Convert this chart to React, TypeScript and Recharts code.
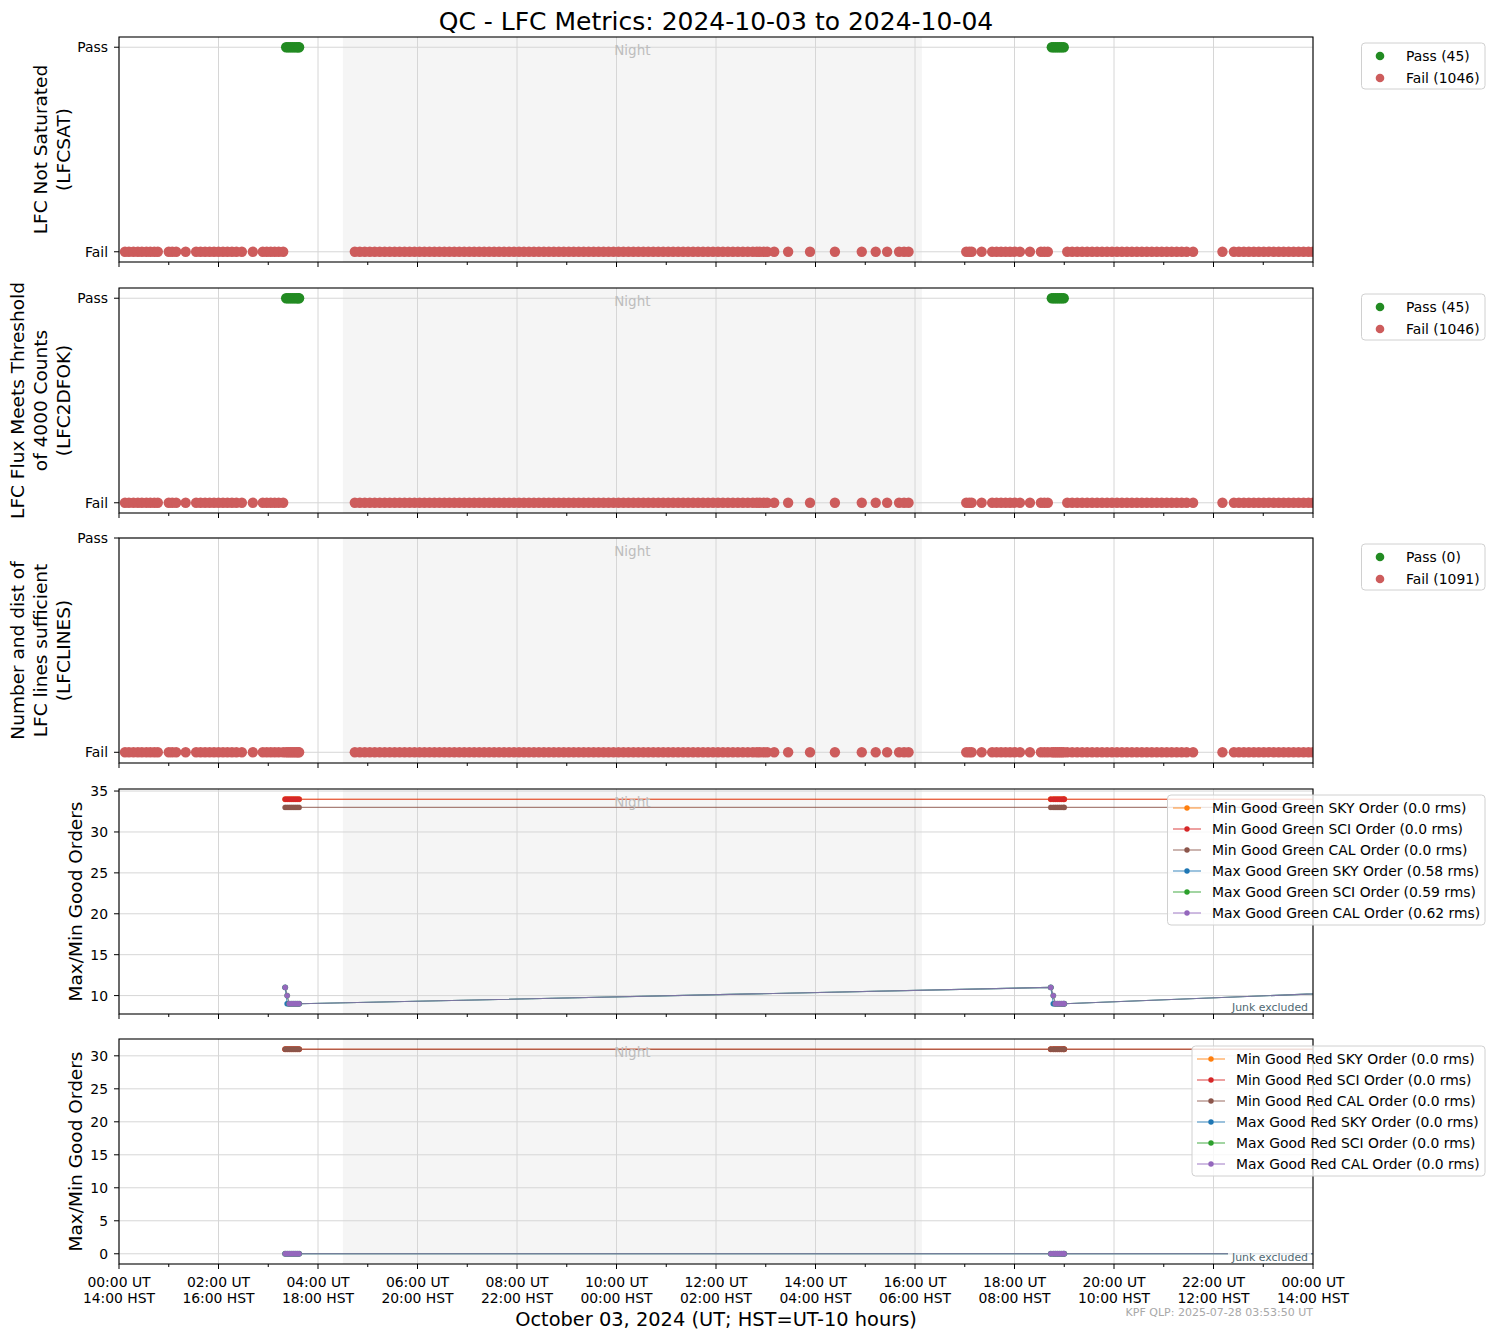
import React from "react";
import { ComposedChart, Line, ReferenceArea, ReferenceLine, Scatter, XAxis, YAxis } from "recharts";

// exposure times (hours UT)
const failTimes = [
  0.12, 0.2, 0.29, 0.38, 0.46, 0.55, 0.63, 0.71, 0.78,
  1.0, 1.07, 1.15, 1.34,
  1.55, 1.64, 1.73, 1.82, 1.91, 2.0, 2.09, 2.18, 2.27, 2.36, 2.47,
  2.69,
  2.89, 2.97, 3.05, 3.13, 3.21, 3.3,
  4.74, 4.84, 4.94, 5.04, 5.14, 5.24, 5.34, 5.44, 5.54, 5.64,
  5.74, 5.84, 5.94, 6.04, 6.14, 6.24, 6.34, 6.44, 6.54, 6.64,
  6.74, 6.84, 6.94, 7.04, 7.14, 7.24, 7.34, 7.44, 7.54, 7.64,
  7.74, 7.84, 7.94, 8.04, 8.14, 8.24, 8.34, 8.44, 8.54, 8.64,
  8.74, 8.84, 8.94, 9.04, 9.14, 9.24, 9.34, 9.44, 9.54, 9.64,
  9.74, 9.84, 9.94, 10.04, 10.14, 10.24, 10.34, 10.44, 10.54, 10.64,
  10.74, 10.84, 10.94, 11.04, 11.14, 11.24, 11.34, 11.44, 11.54, 11.64,
  11.74, 11.84, 11.94, 12.04, 12.14, 12.24, 12.34, 12.44, 12.54, 12.64, 12.74,
  12.82, 12.88, 12.96, 13.03, 13.17,
  13.45, 13.89, 14.39, 14.93, 15.21, 15.44, 15.68, 15.78, 15.87,
  17.03, 17.09, 17.14, 17.34,
  17.55, 17.64, 17.73, 17.82, 17.91, 18.0, 18.11, 18.31,
  18.53, 18.6, 18.67,
  19.06, 19.16, 19.26, 19.36, 19.46, 19.56, 19.66, 19.76, 19.86, 19.96,
  20.06, 20.16, 20.26, 20.36, 20.46, 20.56, 20.66, 20.76, 20.86, 20.96,
  21.06, 21.16, 21.26, 21.36, 21.46, 21.59,
  22.18,
  22.41, 22.51, 22.61, 22.71, 22.81, 22.91, 23.01, 23.11, 23.21, 23.31,
  23.41, 23.51, 23.61, 23.71, 23.81, 23.91, 24.0,
];
const passTimes = [3.36, 3.4, 3.44, 3.48, 3.52, 3.56, 3.6, 3.62, 18.75, 18.79, 18.83, 18.87, 18.91, 18.95, 18.99];

const passCounts = [45, 45, 0];
const failCounts = [1046, 1046, 1091];

// good-order series (LFC frames only), last point falls after midnight
const orderTimes = [3.34, 3.38, 3.42, 3.46, 3.5, 3.54, 3.58, 3.62, 18.73, 18.78, 18.82, 18.86, 18.9, 18.94, 18.98, 19.0, 27.3];
const minSkyGreen = [34, 34, 34, 34, 34, 34, 34, 34, 34, 34, 34, 34, 34, 34, 34, 34, 34];
const minSciGreen = [34, 34, 34, 34, 34, 34, 34, 34, 34, 34, 34, 34, 34, 34, 34, 34, 34];
const minCalGreen = [33, 33, 33, 33, 33, 33, 33, 33, 33, 33, 33, 33, 33, 33, 33, 33, 33];
const maxSkyGreen = [11, 9, 9, 9, 9, 9, 9, 9, 11, 9, 9, 9, 9, 9, 9, 9, 11];
const maxSciGreen = [11, 10, 9, 9, 9, 9, 9, 9, 11, 10, 9, 9, 9, 9, 9, 9, 11];
const maxCalGreen = [11, 10, 9, 9, 9, 9, 9, 9, 11, 10, 9, 9, 9, 9, 9, 9, 11];
const minSkyRed = [31, 31, 31, 31, 31, 31, 31, 31, 31, 31, 31, 31, 31, 31, 31, 31, 31];
const minSciRed = [31, 31, 31, 31, 31, 31, 31, 31, 31, 31, 31, 31, 31, 31, 31, 31, 31];
const minCalRed = [31, 31, 31, 31, 31, 31, 31, 31, 31, 31, 31, 31, 31, 31, 31, 31, 31];
const maxSkyRed = [0, 0, 0, 0, 0, 0, 0, 0, 0, 0, 0, 0, 0, 0, 0, 0, 0];
const maxSciRed = [0, 0, 0, 0, 0, 0, 0, 0, 0, 0, 0, 0, 0, 0, 0, 0, 0];
const maxCalRed = [0, 0, 0, 0, 0, 0, 0, 0, 0, 0, 0, 0, 0, 0, 0, 0, 0];

const greenLabels = [
  "Min Good Green SKY Order (0.0 rms)",
  "Min Good Green SCI Order (0.0 rms)",
  "Min Good Green CAL Order (0.0 rms)",
  "Max Good Green SKY Order (0.58 rms)",
  "Max Good Green SCI Order (0.59 rms)",
  "Max Good Green CAL Order (0.62 rms)",
];
const redLabels = [
  "Min Good Red SKY Order (0.0 rms)",
  "Min Good Red SCI Order (0.0 rms)",
  "Min Good Red CAL Order (0.0 rms)",
  "Max Good Red SKY Order (0.0 rms)",
  "Max Good Red SCI Order (0.0 rms)",
  "Max Good Red CAL Order (0.0 rms)",
];
const orderColors = ["#ff7f0e", "#d62728", "#8c564b", "#1f77b4", "#2ca02c", "#9467bd"];

const majorHours = [0, 2, 4, 6, 8, 10, 12, 14, 16, 18, 20, 22, 24];
const minorHours = [1, 3, 5, 7, 9, 11, 13, 15, 17, 19, 21, 23];
const utLabels = ["00:00 UT", "02:00 UT", "04:00 UT", "06:00 UT", "08:00 UT", "10:00 UT", "12:00 UT", "14:00 UT", "16:00 UT", "18:00 UT", "20:00 UT", "22:00 UT", "00:00 UT"];
const hstLabels = ["14:00 HST", "16:00 HST", "18:00 HST", "20:00 HST", "22:00 HST", "00:00 HST", "02:00 HST", "04:00 HST", "06:00 HST", "08:00 HST", "10:00 HST", "12:00 HST", "14:00 HST"];
const nightStart = 4.5;
const nightEnd = 16.14;

const qcLabels = [
  ["LFC Not Saturated", "(LFCSAT)"],
  ["LFC Flux Meets Threshold", "of 4000 Counts", "(LFC2DFOK)"],
  ["Number and dist of", "LFC lines sufficient", "(LFCLINES)"],
];

const W = 1494;
const H = 1339;
const LEFT = 119;
const RIGHT = 1313;
const TOPS = [37, 288, 538, 789, 1039];
const PH = 225;
const GRID = "#d6d6d6";
const FONT = "'DejaVu Sans', sans-serif";

const hourTicks = [...majorHours, ...minorHours].sort((a, b) => a - b);

function HourTick(props: any) {
  const { x, y, payload, showLabels } = props;
  const i = majorHours.indexOf(payload.value);
  const major = i >= 0;
  return (
    <g>
      <line x1={x} x2={x} y1={y} y2={y + (major ? 5 : 3)} stroke="#000" strokeWidth={1} />
      {showLabels && major && (
        <text textAnchor="middle" fontSize={13.9} fill="#000">
          <tspan x={x} y={y + 23}>{utLabels[i]}</tspan>
          <tspan x={x} y={y + 39}>{hstLabels[i]}</tspan>
        </text>
      )}
    </g>
  );
}

type PanelProps = {
  top: number;
  domain: [number, number];
  ticks: number[];
  fmt?: (v: number) => string;
  showLabels?: boolean;
  children: React.ReactNode;
};

function Panel({ top, domain, ticks, fmt, showLabels, children }: PanelProps) {
  const mt = 10;
  const xh = showLabels ? 48 : 8;
  return (
    <div style={{ position: "absolute", left: 0, top: top - mt }}>
      <ComposedChart width={W} height={mt + PH + xh} margin={{ top: mt, right: W - RIGHT, bottom: 0, left: 0 }}>
        <XAxis
          dataKey="t"
          type="number"
          domain={[0, 24]}
          allowDataOverflow
          ticks={hourTicks}
          interval={0}
          axisLine={false}
          tickLine={false}
          tickSize={0}
          tickMargin={0}
          height={xh}
          tick={<HourTick showLabels={showLabels} />}
        />
        <YAxis
          dataKey="v"
          type="number"
          domain={domain}
          allowDataOverflow
          ticks={ticks}
          interval={0}
          tickFormatter={fmt}
          width={LEFT}
          axisLine={false}
          tickSize={5}
          tickMargin={6}
          tickLine={{ stroke: "#000" }}
          tick={{ fontSize: 13.9, fill: "#000" }}
        />
        <ReferenceArea
          x1={nightStart}
          x2={nightEnd}
          fill="#000"
          fillOpacity={0.038}
          stroke="none"
          label={{ value: "Night", position: "insideTop", offset: 8, fill: "#bdbdbd", fontSize: 13.5 }}
        />
        {majorHours.map((h) => (
          <ReferenceLine key={"gx" + h} x={h} stroke={GRID} strokeWidth={1} />
        ))}
        {ticks.map((v) => (
          <ReferenceLine key={"gy" + v} y={v} stroke={GRID} strokeWidth={1} />
        ))}
        {children}
      </ComposedChart>
    </div>
  );
}

const dotShape = (color: string) => (p: any) => <circle cx={p.cx} cy={p.cy} r={5.2} fill={color} />;
const passFmt = (v: number) => (v === 1 ? "Pass" : "Fail");

function toPoints(times: number[], values: number[]) {
  return times.map((t, i) => ({ t, v: values[i] }));
}

function orderLines(series: number[][]) {
  return series.map((vals, k) => (
    <Line
      key={k}
      data={toPoints(orderTimes, vals)}
      dataKey="v"
      type="linear"
      stroke={orderColors[k]}
      strokeWidth={1.1}
      strokeOpacity={0.75}
      dot={{ r: 2.7, fill: orderColors[k], stroke: orderColors[k], strokeWidth: 0.3 }}
      activeDot={false}
      isAnimationActive={false}
    />
  ));
}

export default function App() {
  const passData = passTimes.map((t) => ({ t, v: 1 }));
  const failData = failTimes.map((t) => ({ t, v: 0 }));
  const allFail = [...failTimes, ...passTimes].map((t) => ({ t, v: 0 }));
  const greenSeries = [minSkyGreen, minSciGreen, minCalGreen, maxSkyGreen, maxSciGreen, maxCalGreen];
  const redSeries = [minSkyRed, minSciRed, minCalRed, maxSkyRed, maxSciRed, maxCalRed];

  return (
    <div style={{ position: "absolute", left: 0, top: 0, width: W, height: H, background: "#fff", fontFamily: FONT, overflow: "hidden" }}>
      {[0, 1, 2].map((p) => (
        <Panel key={p} top={TOPS[p]} domain={p === 2 ? [-0.05, 1.0] : [-0.05, 1.05]} ticks={[0, 1]} fmt={passFmt}>
          <Scatter data={p === 2 ? allFail : failData} dataKey="v" shape={dotShape("#cd5c5c")} isAnimationActive={false} />
          {p < 2 && <Scatter data={passData} dataKey="v" shape={dotShape("#228b22")} isAnimationActive={false} />}
        </Panel>
      ))}
      <Panel top={TOPS[3]} domain={[7.75, 35.25]} ticks={[10, 15, 20, 25, 30, 35]}>
        {orderLines(greenSeries)}
      </Panel>
      <Panel top={TOPS[4]} domain={[-1.55, 32.55]} ticks={[0, 5, 10, 15, 20, 25, 30]} showLabels>
        {orderLines(redSeries)}
      </Panel>

      <svg width={W} height={H} style={{ position: "absolute", left: 0, top: 0, pointerEvents: "none" }} fontFamily={FONT}>
        <text x={716} y={30} textAnchor="middle" fontSize={25} fill="#000">
          QC - LFC Metrics: 2024-10-03 to 2024-10-04
        </text>
        <text x={716} y={1326} textAnchor="middle" fontSize={19.4} fill="#000">
          October 03, 2024 (UT; HST=UT-10 hours)
        </text>
        <text x={RIGHT} y={1316} textAnchor="end" fontSize={11} fill="#a8a8a8">
          KPF QLP: 2025-07-28 03:53:50 UT
        </text>

        {TOPS.map((t, i) => (
          <rect key={"f" + i} x={LEFT} y={t} width={RIGHT - LEFT} height={PH} fill="none" stroke="#000" strokeWidth={1.1} />
        ))}

        {qcLabels.map((lines, p) =>
          lines.map((s, j) => {
            const bx = 70 - (lines.length - 1 - j) * 23;
            return (
              <text key={p + "-" + j} transform={`translate(${bx},${TOPS[p] + PH / 2}) rotate(-90)`} textAnchor="middle" fontSize={18.5} fill="#000">
                {s}
              </text>
            );
          })
        )}
        {[3, 4].map((p) => (
          <text key={"ol" + p} transform={`translate(81.5,${TOPS[p] + PH / 2}) rotate(-90)`} textAnchor="middle" fontSize={18.5} fill="#000">
            Max/Min Good Orders
          </text>
        ))}

        {[3, 4].map((p) => (
          <g key={"junk" + p}>
            <rect x={1228} y={TOPS[p] + PH - 15} width={83} height={14} fill="#fff" fillOpacity={0.8} />
            <text x={1308} y={TOPS[p] + PH - 3.5} textAnchor="end" fontSize={10.9} fill="#4f6872">
              Junk excluded
            </text>
          </g>
        ))}

        {[0, 1, 2].map((p) => {
          const by = TOPS[p] + 6;
          return (
            <g key={"pl" + p}>
              <rect x={1361.5} y={by} width={123.5} height={46} rx={3.5} fill="#fff" fillOpacity={0.8} stroke="#d0d0d0" />
              <circle cx={1380} cy={by + 13} r={4.3} fill="#228b22" />
              <circle cx={1380} cy={by + 35} r={4.3} fill="#cd5c5c" />
              <text x={1406} y={by + 13} dominantBaseline="central" fontSize={13.9} fill="#000">{`Pass (${passCounts[p]})`}</text>
              <text x={1406} y={by + 35} dominantBaseline="central" fontSize={13.9} fill="#000">{`Fail (${failCounts[p]})`}</text>
            </g>
          );
        })}

        {[
          { labels: greenLabels, bx: 1167.5, by: 795, lx: 1173, tx: 1212 },
          { labels: redLabels, bx: 1192, by: 1046, lx: 1197, tx: 1236 },
        ].map((lg, n) => (
          <g key={"lg" + n}>
            <rect x={lg.bx} y={lg.by} width={1485 - lg.bx} height={130} rx={3.5} fill="#fff" fillOpacity={0.8} stroke="#d0d0d0" />
            {lg.labels.map((s, k) => {
              const ry = lg.by + 13 + k * 21;
              return (
                <g key={k}>
                  <line x1={lg.lx} x2={lg.lx + 28} y1={ry} y2={ry} stroke={orderColors[k]} strokeWidth={1.1} strokeOpacity={0.8} />
                  <circle cx={lg.lx + 14} cy={ry} r={2.7} fill={orderColors[k]} />
                  <text x={lg.tx} y={ry} dominantBaseline="central" fontSize={13.9} fill="#000">
                    {s}
                  </text>
                </g>
              );
            })}
          </g>
        ))}
      </svg>
    </div>
  );
}
